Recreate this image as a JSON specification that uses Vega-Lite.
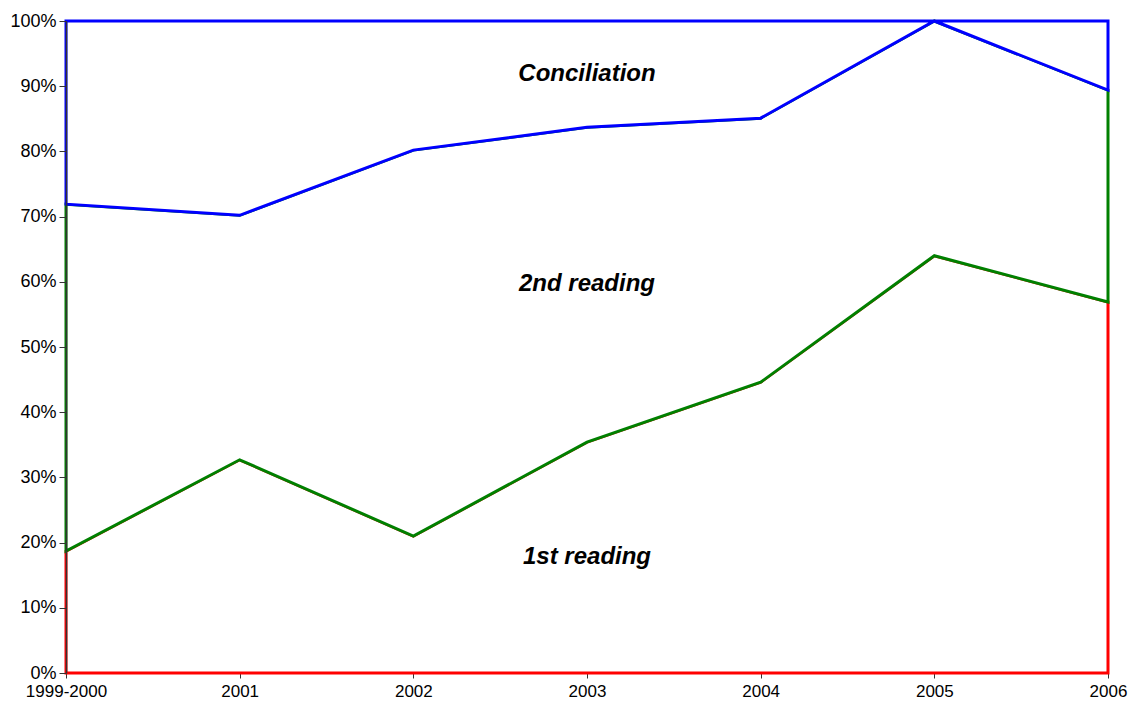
{
  "$schema": "https://vega.github.io/schema/vega-lite/v6.json",
  "autosize": "none",
  "width": 1042,
  "height": 652,
  "padding": {"left": 66, "top": 21, "right": 22, "bottom": 33},
  "background": "white",
  "config": {"view": {"stroke": null}, "font": "Liberation Sans"},
  "datasets": {
    "shares": [
      {"year": "1999-2000", "stage": "1st reading", "rank": 1, "share": 0.187},
      {"year": "2001", "stage": "1st reading", "rank": 1, "share": 0.327},
      {"year": "2002", "stage": "1st reading", "rank": 1, "share": 0.210},
      {"year": "2003", "stage": "1st reading", "rank": 1, "share": 0.354},
      {"year": "2004", "stage": "1st reading", "rank": 1, "share": 0.446},
      {"year": "2005", "stage": "1st reading", "rank": 1, "share": 0.640},
      {"year": "2006", "stage": "1st reading", "rank": 1, "share": 0.569},
      {"year": "1999-2000", "stage": "2nd reading", "rank": 2, "share": 0.532},
      {"year": "2001", "stage": "2nd reading", "rank": 2, "share": 0.375},
      {"year": "2002", "stage": "2nd reading", "rank": 2, "share": 0.592},
      {"year": "2003", "stage": "2nd reading", "rank": 2, "share": 0.483},
      {"year": "2004", "stage": "2nd reading", "rank": 2, "share": 0.405},
      {"year": "2005", "stage": "2nd reading", "rank": 2, "share": 0.360},
      {"year": "2006", "stage": "2nd reading", "rank": 2, "share": 0.325},
      {"year": "1999-2000", "stage": "Conciliation", "rank": 3, "share": 0.281},
      {"year": "2001", "stage": "Conciliation", "rank": 3, "share": 0.298},
      {"year": "2002", "stage": "Conciliation", "rank": 3, "share": 0.198},
      {"year": "2003", "stage": "Conciliation", "rank": 3, "share": 0.163},
      {"year": "2004", "stage": "Conciliation", "rank": 3, "share": 0.149},
      {"year": "2005", "stage": "Conciliation", "rank": 3, "share": 0.0},
      {"year": "2006", "stage": "Conciliation", "rank": 3, "share": 0.106}
    ],
    "labels": [
      {"year": "2003", "label": "Conciliation", "pos": 0.919},
      {"year": "2003", "label": "2nd reading", "pos": 0.597},
      {"year": "2003", "label": "1st reading", "pos": 0.178}
    ]
  },
  "layer": [
    {
      "data": {"name": "shares"},
      "mark": {"type": "area", "fill": "white", "strokeWidth": 3, "strokeJoin": "miter"},
      "encoding": {
        "x": {
          "field": "year", "type": "ordinal",
          "scale": {"type": "point", "padding": 0},
          "axis": {"title": null, "labelAngle": 0, "labelFontSize": 17, "labelColor": "black", "domain": false, "tickColor": "#333", "tickSize": 5, "labelPadding": 5, "grid": false}
        },
        "y": {
          "field": "share", "type": "quantitative", "stack": "zero",
          "scale": {"domain": [0, 1], "nice": false},
          "axis": {"title": null, "format": ".0%", "values": [0, 0.1, 0.2, 0.3, 0.4, 0.5, 0.6, 0.7, 0.8, 0.9, 1], "labelFontSize": 18, "labelColor": "black", "domainColor": "#333", "domainWidth": 1.5, "tickColor": "#333", "tickSize": 7, "labelPadding": 3, "grid": false, "zindex": 1}
        },
        "order": {"field": "rank", "type": "quantitative", "sort": "ascending"},
        "stroke": {
          "field": "stage", "type": "nominal",
          "scale": {"domain": ["1st reading", "2nd reading", "Conciliation"], "range": ["#ff0000", "#008000", "#0000ff"]},
          "legend": null
        }
      }
    },
    {
      "data": {"name": "labels"},
      "mark": {"type": "text", "fontSize": 24, "fontWeight": "bold", "fontStyle": "italic", "font": "Liberation Sans", "color": "black", "baseline": "middle", "align": "center"},
      "encoding": {
        "x": {"field": "year", "type": "ordinal"},
        "y": {"field": "pos", "type": "quantitative"},
        "text": {"field": "label"}
      }
    }
  ]
}
